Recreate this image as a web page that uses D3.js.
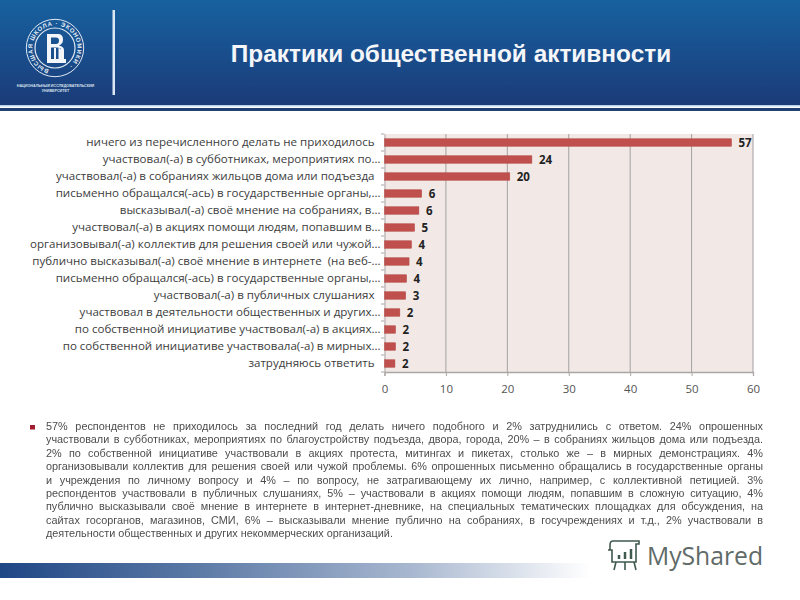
<!DOCTYPE html>
<html lang="ru"><head><meta charset="utf-8">
<script src="https://cdn.jsdelivr.net/npm/d3@7"></script>
<style>
html,body{margin:0;padding:0;background:#fff;width:800px;height:600px;overflow:hidden}
svg{position:absolute;left:0;top:0}
#body{position:absolute;left:46px;top:420px;width:717px;font:10.85px/13.42px "Liberation Sans",Arial,sans-serif;color:#4d4d4d;filter:blur(.25px)}
#body div{text-align:justify;text-align-last:justify;height:13.42px;white-space:normal}
#body div.last{text-align-last:left}
</style></head><body>
<svg id="c" width="800" height="600"></svg>
<div id="body"></div>
<script>
const categories=["ничего из перечисленного делать не приходилось  ","участвовал(-а) в субботниках, мероприятиях по…","участвовал(-а) в собраниях жильцов дома или подъезда  ","письменно обращался(-ась) в государственные органы,…","высказывал(-а) своё мнение на собраниях, в…","участвовал(-а) в акциях помощи людям, попавшим в…","организовывал(-а) коллектив для решения своей или чужой…","публично высказывал(-а) своё мнение в интернете  (на веб-…","письменно обращался(-ась) в государственные органы,…","участвовал(-а) в публичных слушаниях  ","участвовал в деятельности общественных и других…","по собственной инициативе участвовал(-а) в акциях…","по собственной инициативе участвовала(-а) в мирных…","затрудняюсь ответить  "];
const values=[56.5,24,20.4,6.05,5.6,4.9,4.4,4,3.6,3.45,2.5,1.8,1.8,1.7];
const shownLabels=["57","24","20","6","6","5","4","4","4","3","2","2","2","2"];
const xTicks=[0,10,20,30,40,50,60];
const titleText="Практики общественной активности";
const bodyLines=["57% респондентов не приходилось за последний год делать ничего подобного и 2% затруднились с ответом. 24% опрошенных","участвовали в субботниках, мероприятиях по благоустройству подъезда, двора, города, 20% – в собраниях жильцов дома или подъезда.","2% по собственной инициативе участвовали в акциях протеста, митингах и пикетах, столько же – в мирных демонстрациях. 4%","организовывали коллектив для решения своей или чужой проблемы. 6% опрошенных письменно обращались в государственные органы","и учреждения по личному вопросу и 4% – по вопросу, не затрагивающему их лично, например, с коллективной петицией. 3%","респондентов участвовали в публичных слушаниях, 5% – участвовали в акциях помощи людям, попавшим в сложную ситуацию, 4%","публично высказывали своё мнение в интернете в интернет-дневнике, на специальных тематических площадках для обсуждения, на","сайтах госорганов, магазинов, СМИ, 6% – высказывали мнение публично на собраниях, в госучреждениях и т.д., 2% участвовали в","деятельности общественных и других некоммерческих организаций."];

const svg=d3.select("#c"), defs=svg.append("defs");
function grad(id,x2,y2,stops){const g=defs.append("linearGradient").attr("id",id).attr("x1",0).attr("y1",0).attr("x2",x2).attr("y2",y2);
  stops.forEach(s=>g.append("stop").attr("offset",s[0]).attr("stop-color",s[1]));}
grad("hdr",0,1,[[0,"#17619f"],[.45,"#19508f"],[1,"#1b3b77"]]);
grad("ftr",1,0,[[0,"#1f4785"],[.35,"#5f7ca8"],[.7,"#a9b8d0"],[1,"#ffffff"]]);

// header
svg.append("rect").attr("width",800).attr("height",105).attr("fill","url(#hdr)");
svg.append("rect").attr("y",105).attr("width",800).attr("height",1.5).attr("fill","#bcd4ea");
svg.append("rect").attr("y",108).attr("width",800).attr("height",3).attr("fill","#223f73");
svg.append("rect").attr("x",112.5).attr("y",10).attr("width",2.5).attr("height",85).attr("fill","#dbe8f3");
svg.append("text").attr("x",451).attr("y",61.5).attr("text-anchor","middle").attr("fill","#f4f6f9")
  .attr("font-family","Liberation Sans").attr("font-weight","bold").attr("font-size",24.4).text(titleText);

// logo
const lg=svg.append("g").attr("transform","translate(55,48)");
lg.append("circle").attr("r",28.7).attr("fill","none").attr("stroke","#dfe9f3").attr("stroke-width",1);
lg.append("circle").attr("r",20).attr("fill","none").attr("stroke","#dfe9f3").attr("stroke-width",1.2);
defs.append("path").attr("id","ring").attr("d","M-6,21.7 A22.5,22.5 0 1 1 6,21.7");
lg.append("text").attr("font-family","Liberation Sans").attr("font-size",6).attr("font-weight","bold").attr("fill","#e4edf5").attr("letter-spacing",.72)
  .append("textPath").attr("href","#ring").text("ВЫСШАЯ ШКОЛА · ЭКОНОМИКИ ·");
lg.append("path").attr("fill","#f2f6fa").attr("fill-rule","evenodd")
  .attr("d","M-8,-14 H3 Q8,-14 8,-8.5 Q8,-4 4,-2.5 Q9,-1.5 9,2 V11 H11 V15 H-8 Z M-4,-10.5 V-4 H1 Q4,-4 4,-7.2 Q4,-10.5 1,-10.5 Z M-4,-0.5 V11 H-1 V0 H1 V11 H3.5 V0 H5.5 V2 Q5.5,-0.5 2,-0.5 Z");
const smallLines=[["НАЦИОНАЛЬНЫЙ ИССЛЕДОВАТЕЛЬСКИЙ",86.5],["УНИВЕРСИТЕТ",92]];
svg.append("g").selectAll("text").data(smallLines).join("text").attr("x",55.5).attr("y",d=>d[1]).attr("text-anchor","middle")
  .attr("font-family","Liberation Sans").attr("font-size",3.7).attr("font-weight","bold").attr("fill","#d5e0ec").text(d=>d[0]);

// chart
const x=d3.scaleLinear().domain([0,60]).range([384.5,753]);
const y=d3.scaleBand().domain(d3.range(categories.length)).range([134,372]).paddingInner(.56).paddingOuter(.28);
svg.append("rect").attr("x",x(0)).attr("y",134).attr("width",x(60)-x(0)).attr("height",238).attr("fill","#f2e9e7");
svg.append("g").selectAll("line").data(xTicks.slice(1)).join("line")
  .attr("x1",d=>x(d)).attr("x2",d=>x(d)).attr("y1",134).attr("y2",372).attr("stroke","#a3a0a0").attr("stroke-width",1);

const xa=svg.append("g").attr("transform","translate(0,372)").call(d3.axisBottom(x).tickValues(xTicks).tickSize(4).tickPadding(9));
xa.select(".domain").attr("stroke","#aaa6a4").attr("stroke-width",1.3);
xa.selectAll(".tick line").attr("stroke","#aaa6a4");
xa.selectAll("text").attr("font-family","Open Sans").attr("font-size",11.5).attr("fill","#555");

const ya=svg.append("g").attr("transform","translate(384.5,0)").call(d3.axisLeft(y).tickSize(0).tickPadding(4).tickFormat(i=>categories[i]));
ya.select(".domain").attr("stroke","#aaa6a4");
ya.selectAll("text").attr("font-family","Open Sans").attr("font-size",11.55).attr("fill","#3c3c3c").style("white-space","pre");
svg.append("g").selectAll("line").data(d3.range(15)).join("line")
  .attr("x1",381).attr("x2",384.5).attr("y1",i=>134+i*y.step()).attr("y2",i=>134+i*y.step()).attr("stroke","#aaa6a4");

svg.append("g").selectAll("rect").data(values).join("rect")
  .attr("x",x(0)).attr("y",(d,i)=>y(i)).attr("width",d=>x(d)-x(0)).attr("height",y.bandwidth())
  .attr("fill","#c0504d").attr("stroke","#b34845").attr("stroke-width",.5);
svg.append("g").selectAll("text").data(values).join("text")
  .attr("x",d=>x(d)+7).attr("y",(d,i)=>y(i)+y.bandwidth()/2+4.5)
  .attr("font-family","Open Sans").attr("font-weight","bold").attr("font-size",11.5).attr("fill","#222")
  .text((d,i)=>shownLabels[i]);

// footer band
svg.append("rect").attr("y",563).attr("width",590).attr("height",15).attr("fill","url(#ftr)");

// bullet
svg.append("rect").attr("x",30).attr("y",425).attr("width",5).attr("height",4.5).attr("fill","#a11c2c");
d3.select("#body").selectAll("div").data(bodyLines).join("div")
  .attr("class",(d,i)=>i===bodyLines.length-1?"last":null).text(d=>d);

// watermark
const wm=svg.append("g").attr("stroke","#3f5a4e").attr("fill","none").attr("stroke-width",1.6);
wm.append("path").attr("d","M613,541 h26 v3 h-3 v18 h-24 v-12 h-4 M613,541 q-3,0 -3,4 v5 M616,562 l-2,8 M625,562 v8 M634,562 l2,8");
wm.selectAll("line").data([[619,4],[625,7],[631,10]]).join("line")
  .attr("x1",d=>d[0]).attr("x2",d=>d[0]).attr("y1",559).attr("y2",d=>559-d[1]).attr("stroke-width",2.5);
svg.append("text").attr("x",647).attr("y",565).attr("font-family","Open Sans").attr("font-size",24.7).attr("fill","#5f6b68").text("MyShared");
</script>
</body></html>
